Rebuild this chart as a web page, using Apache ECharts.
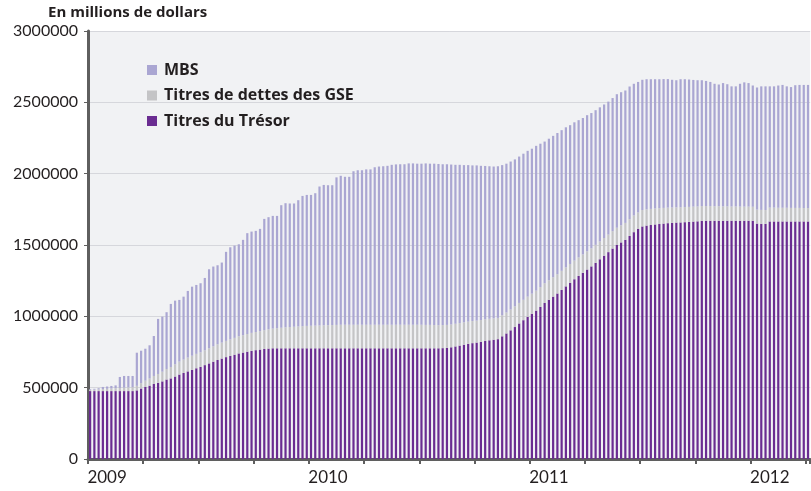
<!DOCTYPE html>
<html lang="fr">
<head>
<meta charset="UTF-8">
<title>Titres détenus</title>
<script src="https://cdn.jsdelivr.net/npm/echarts@6/dist/echarts.min.js"></script>
<style>
    html, body { margin: 0; padding: 0; background: #fff; }
    #main { width: 811px; height: 491px; }
</style>
</head>
<body>
<div id="main"></div>
<script>
    // une barre par semaine, à partir du premier mercredi de 2009
    var startWeek = '2009-01-07';
    var yearLabels = ['2009', '2010', '2011', '2012'];
    var seriesNames = ['MBS', 'Titres de dettes des GSE', 'Titres du Trésor'];

    // en millions de dollars
    var treasury = [
        476000, 476000, 476000, 476000, 476000, 476000, 476000, 476000, 476000, 476000,
        476000, 481000, 494000, 505000, 514000, 526000, 534000, 544000, 557000, 565000,
        578000, 592000, 603000, 614000, 625000, 636000, 646000, 658000, 670000, 682000,
        694000, 704000, 714000, 723000, 731000, 740000, 746000, 752000, 758000, 763000,
        767000, 771000, 774000, 776000, 776000, 776000, 776000, 776000, 776000, 776000,
        776000, 776000, 776000, 776000, 776000, 776000, 776000, 776000, 776000, 776000,
        776000, 776000, 776000, 776000, 776000, 776000, 776000, 776000, 776000, 776000,
        776000, 776000, 776000, 776000, 776000, 776000, 776000, 776000, 776000, 776000,
        776000, 776000, 776000, 777000, 779000, 783000, 789000, 795000, 801000, 807000,
        812000, 816000, 821000, 827000, 832000, 836000, 840000, 860000, 880000, 902000,
        925000, 950000, 973000, 996000, 1018000, 1040000, 1066000, 1094000, 1116000, 1138000,
        1160000, 1185000, 1210000, 1235000, 1260000, 1283000, 1305000, 1328000, 1350000, 1375000,
        1400000, 1425000, 1450000, 1475000, 1500000, 1518000, 1536000, 1563000, 1590000, 1612000,
        1630000, 1636000, 1640000, 1644000, 1647000, 1650000, 1653000, 1655000, 1657000, 1658000,
        1660000, 1662000, 1664000, 1666000, 1669000, 1670000, 1670000, 1670000, 1670000, 1670000,
        1670000, 1670000, 1670000, 1670000, 1670000, 1670000, 1670000, 1650000, 1648000, 1648000,
        1665000, 1665000, 1665000, 1665000, 1665000, 1665000, 1665000, 1665000, 1665000, 1665000
    ];
    var gseDebt = [
        8000, 10000, 12000, 14000, 16000, 18000, 20000, 22000, 24000, 26000,
        28000, 32000, 38000, 44000, 50000, 56000, 62000, 68000, 74000, 80000,
        86000, 91000, 94000, 97000, 99000, 101000, 102000, 104000, 106000, 108000,
        110000, 112000, 114000, 116000, 118000, 120000, 122000, 124000, 126000, 127000,
        129000, 132000, 135000, 138000, 141000, 144000, 147000, 149000, 151000, 153000,
        155000, 157000, 158000, 159000, 160000, 161000, 162000, 163000, 164000, 165000,
        165000, 165000, 165000, 165000, 165000, 165000, 165000, 165000, 165000, 165000,
        165000, 165000, 165000, 165000, 165000, 165000, 165000, 165000, 165000, 164000,
        164000, 163000, 162000, 162000, 161000, 160000, 159000, 158000, 157000, 156000,
        155000, 154000, 153000, 152000, 151000, 150000, 149000, 148000, 147000, 146000,
        145000, 144000, 143000, 142000, 141000, 140000, 139000, 138000, 137000, 136000,
        135000, 134000, 133000, 132000, 131000, 130000, 129000, 128000, 127000, 126000,
        125000, 124000, 123000, 122000, 121000, 120000, 119000, 118000, 117000, 116000,
        115000, 114000, 113000, 112000, 111000, 110000, 109000, 108000, 107000, 106000,
        106000, 105000, 105000, 104000, 104000, 103000, 103000, 102000, 102000, 101000,
        101000, 100000, 100000, 99000, 99000, 99000, 98000, 98000, 98000, 97000,
        97000, 97000, 96000, 96000, 96000, 95000, 95000, 95000, 94000, 94000
    ];
    var mbs = [
        5000, 6000, 8000, 15000, 16000, 18000, 20000, 77000, 82000, 80000,
        78000, 232000, 227000, 224000, 233000, 280000, 386000, 386000, 398000, 442000,
        446000, 432000, 441000, 467000, 484000, 483000, 484000, 507000, 554000, 559000,
        554000, 561000, 624000, 645000, 647000, 645000, 668000, 707000, 710000, 709000,
        717000, 780000, 786000, 790000, 787000, 859000, 870000, 866000, 864000, 885000,
        913000, 918000, 917000, 928000, 974000, 984000, 981000, 980000, 1034000, 1044000,
        1037000, 1037000, 1076000, 1083000, 1083000, 1089000, 1089000, 1104000, 1109000, 1111000,
        1114000, 1121000, 1124000, 1125000, 1125000, 1131000, 1131000, 1129000, 1129000, 1132000,
        1130000, 1131000, 1130000, 1127000, 1126000, 1121000, 1114000, 1109000, 1102000, 1097000,
        1091000, 1088000, 1081000, 1075000, 1069000, 1064000, 1063000, 1052000, 1043000, 1037000,
        1030000, 1026000, 1024000, 1022000, 1016000, 1015000, 1005000, 993000, 992000, 991000,
        990000, 986000, 982000, 973000, 969000, 962000, 956000, 954000, 948000, 944000,
        940000, 936000, 932000, 933000, 936000, 933000, 928000, 930000, 923000, 915000,
        913000, 912000, 909000, 906000, 904000, 903000, 901000, 895000, 891000, 898000,
        896000, 893000, 888000, 885000, 882000, 877000, 870000, 858000, 853000, 864000,
        856000, 842000, 842000, 861000, 871000, 866000, 850000, 856000, 866000, 867000,
        850000, 850000, 857000, 861000, 851000, 847000, 860000, 862000, 863000, 863000
    ];

    var weeks = [];
    var t0 = new Date(startWeek + 'T00:00:00Z').getTime();
    for (var i = 0; i < treasury.length; i++) {
        weeks.push(new Date(t0 + i * 7 * 86400000).toISOString().slice(0, 10));
    }

    var font = 'Lato';
    var boldFont = 'Open Sans';
    var axisColor = '#5f5f5f';
    var textColor = '#231f20';

    var myChart = echarts.init(document.getElementById('main'));
    var option = {
        animation: false,
        title: {
            text: 'En millions de dollars',
            left: 48,
            top: 5,
            padding: 0,
            textStyle: {fontSize: 15, fontWeight: 'bold', color: textColor, fontFamily: boldFont}
        },
        legend: {
            data: seriesNames,
            orient: 'vertical',
            left: 142,
            top: 57,
            itemWidth: 10,
            itemHeight: 10,
            itemGap: 9.5,
            icon: 'rect',
            textStyle: {fontSize: 16, fontWeight: 'bold', color: textColor, fontFamily: boldFont,
                padding: [0, 0, 0, 2]}
        },
        grid: {
            left: 88,
            right: -2,
            top: 31,
            bottom: 32,
            show: true,
            backgroundColor: '#f1f2f4',
            borderWidth: 0
        },
        xAxis: {
            type: 'category',
            data: weeks,
            boundaryGap: true,
            axisLine: {lineStyle: {color: axisColor, width: 3}},
            axisTick: {
                show: true,
                // un trait par trimestre
                interval: function (index) { return index % 13 === 0; },
                length: 5,
                lineStyle: {color: axisColor, width: 2}
            },
            axisLabel: {
                interval: 0,
                margin: 10,
                fontSize: 17,
                color: textColor,
                fontFamily: font,
                formatter: function (value) {
                    var y = value.slice(0, 4);
                    var m = value.slice(5, 7);
                    var d = +value.slice(8, 10);
                    if (m === '02' && d <= 7 && yearLabels.indexOf(y) >= 0) return y;
                    return '';
                }
            },
            splitLine: {show: false}
        },
        yAxis: {
            type: 'value',
            min: 0,
            max: 3000000,
            interval: 500000,
            axisLine: {show: true, lineStyle: {color: axisColor, width: 3}},
            axisTick: {show: true, length: 4, lineStyle: {color: axisColor, width: 1}},
            axisLabel: {
                fontSize: 16, color: textColor, fontFamily: font, margin: 10,
                formatter: function (v) { return String(v); }
            },
            splitLine: {lineStyle: {color: '#d6d7dc', width: 1}}
        },
        series: [
            {
                name: 'Titres du Trésor',
                type: 'bar',
                stack: 'total',
                barCategoryGap: '48%',
                itemStyle: {color: '#6a2c91'},
                data: treasury
            },
            {
                name: 'Titres de dettes des GSE',
                type: 'bar',
                stack: 'total',
                barCategoryGap: '48%',
                itemStyle: {color: '#c4c4c6'},
                data: gseDebt
            },
            {
                name: 'MBS',
                type: 'bar',
                stack: 'total',
                barCategoryGap: '48%',
                itemStyle: {color: '#aaa6d2'},
                data: mbs
            }
        ]
    };
    myChart.setOption(option);
</script>
</body>
</html>
